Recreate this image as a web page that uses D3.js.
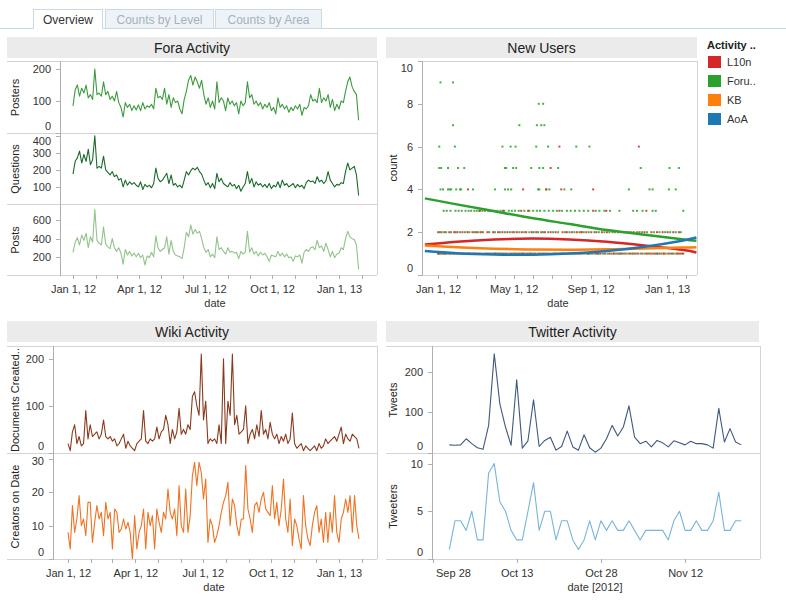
<!DOCTYPE html>
<html lang="en">
<head>
<meta charset="UTF-8">
<title>Community Overview</title>
<script src="https://d3js.org/d3.v7.min.js"></script>
<style>
  body { margin: 0; background: #fff; }
  svg { font-family: Arial, "Liberation Sans", sans-serif; }
  .hdr { fill: #ebebeb; }
  .hdr-text { font-size: 14px; fill: #222; text-anchor: middle; }
  .frame { stroke: #d4d4d4; stroke-width: 1; shape-rendering: crispEdges; }
  .axis line { stroke: #b0b0b0; shape-rendering: crispEdges; }
  .axis text { font-size: 11px; fill: #333; font-family: Arial, "Liberation Sans", sans-serif; }
  .ytitle { font-size: 11px; fill: #222; text-anchor: middle; }
  .xtitle { font-size: 11px; fill: #333; text-anchor: middle; }
</style>
</head>
<body>
<svg width="786" height="600"></svg>
<script>
// ---------------- data ----------------
const tabNames = ["Overview", "Counts by Level", "Counts by Area"];
const panelTitles = ["Fora Activity", "New Users", "Wiki Activity", "Twitter Activity"];

// daily activity sampled every 3 days, Jan 1 2012 .. Jan 28 2013
const foraDates = d3.timeDay.range(new Date(2012, 0, 1), new Date(2013, 0, 29), 3);

const postersValues = [
  85, 135, 150, 115, 140, 125, 150, 110, 120, 105,
  200, 120, 125, 115, 160, 120, 130, 105, 115, 100,
  130, 95, 80, 50, 95, 80, 90, 70, 85, 72,
  88, 70, 95, 75, 85, 80, 90, 75, 140, 110,
  115, 105, 140, 90, 120, 80, 110, 95, 100, 75,
  60, 105, 130, 165, 180, 150, 175, 160, 140, 165,
  120, 90, 110, 80, 100, 75, 160, 95, 110, 100,
  70, 110, 90, 100, 85, 95, 60, 100, 85, 95,
  160, 110, 120, 90, 100, 85, 95, 75, 90, 80,
  95, 70, 80, 60, 110, 80, 90, 75, 85, 65,
  80, 70, 85, 75, 90, 55, 80, 75, 85, 120,
  100, 105, 95, 140, 95, 110, 100, 120, 80, 105,
  70, 90, 75, 100, 95, 130, 160, 175, 145, 130,
  120, 40
];
const questionsValues = [
  175, 250, 270, 310, 240, 290, 250, 320, 230, 260,
  400, 210, 220, 210, 280, 200, 185, 170, 190, 160,
  170, 140, 150, 100, 140, 110, 130, 115, 125, 110,
  100, 130, 85, 115, 100, 110, 95, 120, 210, 150,
  130, 140, 160, 180, 120, 170, 110, 120, 100, 110,
  95, 140, 190, 170, 195, 210, 200, 215, 190, 175,
  140, 110, 125, 95, 120, 90, 180, 130, 150, 120,
  110, 100, 125, 105, 115, 90, 110, 75, 100, 120,
  190, 120, 150, 100, 130, 110, 120, 100, 115, 95,
  120, 90, 110, 100, 130, 95, 140, 110, 120, 100,
  110, 120, 95, 115, 100, 110, 90, 125, 140, 130,
  135, 120, 160, 130, 140, 120, 135, 190, 140, 120,
  100, 115, 110, 125, 120, 190, 240, 200, 210, 220,
  170, 50
];
const postsValues = [
  250, 360, 410, 330, 440, 380, 460, 300, 420, 360,
  720, 380, 350, 330, 530, 340, 310, 290, 400, 300,
  260, 300, 240, 120, 280, 220, 260, 210, 240, 200,
  240, 190, 220, 110, 210, 190, 250, 200, 430, 300,
  260, 280, 300, 420, 230, 380, 260, 220, 210, 200,
  180, 300, 470, 420, 550, 450, 500, 460, 480, 400,
  300, 250, 280, 200, 230, 190, 420, 280, 300, 260,
  230, 300, 250, 260, 240, 250, 180, 260, 230, 250,
  480, 250, 300, 230, 260, 210, 250, 220, 240, 200,
  150, 220, 210, 200, 260, 210, 240, 200, 230, 190,
  200, 150, 210, 200, 220, 130, 250, 280, 260, 300,
  310, 280, 380, 300, 320, 260, 350, 280, 200, 260,
  190, 230, 240, 300, 280, 400, 480, 420, 400, 390,
  330, 60
];
const documentsValues = [
  20, 5, 45, 60, 20, 35, 15, 20, 90, 30,
  60, 35, 40, 45, 30, 40, 70, 35, 30, 35,
  25, 30, 15, 20, 30, 40, 10, 25, 15, 10,
  5, 20, 25, 30, 90, 25, 20, 30, 25, 30,
  55, 30, 45, 50, 80, 60, 20, 50, 30, 45,
  95, 40, 50, 40, 60, 50, 120, 130, 100, 80,
  210, 70, 110, 20, 30, 25, 30, 20, 60, 20,
  200, 20, 110, 80, 210, 60, 80, 40, 45, 50,
  100, 20, 40, 50, 30, 60, 35, 90, 40, 50,
  30, 65, 40, 30, 40, 20, 35, 25, 40, 20,
  30, 85, 20, 10, 15, 20, 5, 15, 10, 5,
  10, 15, 5, 20, 10, 15, 30, 20, 25, 30,
  35, 25, 40, 55, 20, 40, 30, 25, 40, 35,
  30, 10
];
const creatorsValues = [
  8, 3, 16, 8, 12, 19, 10, 12, 7, 17,
  17, 5, 11, 16, 12, 14, 7, 17, 12, 14,
  3, 15, 14, 8, 9, 12, 9, 11, 8, 0,
  13, 3, 8, 10, 15, 3, 14, 10, 13, 3,
  15, 11, 8, 14, 12, 21, 14, 12, 15, 7,
  22, 10, 8, 21, 8, 13, 25, 29, 22, 29,
  26, 18, 24, 5, 12, 10, 5, 7, 10, 14,
  17, 19, 23, 10, 18, 16, 10, 7, 12, 12,
  28, 15, 12, 8, 16, 17, 14, 18, 20, 15,
  14, 13, 22, 12, 17, 10, 15, 24, 12, 8,
  18, 4, 12, 10, 6, 3, 19, 10, 6, 4,
  10, 14, 16, 8, 12, 5, 14, 5, 14, 8,
  19, 8, 5, 12, 14, 18, 14, 19, 8, 19,
  10, 6
];

// twitter, daily Oct 1 .. Nov 22 2012
const twitterDates = d3.timeDay.range(new Date(2012, 9, 1), new Date(2012, 10, 23));
const tweetsValues = [
  20, 19, 20, 35, 23, 13, 9, 68, 244, 121,
  64, 19, 180, 12, 30, 131, 16, 31, 39, 7,
  16, 54, 15, 7, 45, 13, 2, 12, 35, 68,
  42, 64, 116, 39, 23, 29, 15, 31, 25, 15,
  30, 25, 20, 29, 23, 23, 20, 12, 110, 27,
  60, 27, 20
];
const tweetersValues = [
  1, 4, 4, 3, 5, 2, 2, 9, 10, 6,
  5, 3, 2, 2, 5, 8, 3, 5, 5, 2,
  4, 4, 2, 1, 2, 4, 2, 4, 3, 4,
  3, 3, 4, 3, 2, 3, 3, 3, 3, 2,
  4, 5, 3, 3, 4, 3, 3, 4, 7, 3,
  3, 4, 4
];
const twitterTickDates = [new Date(2012, 8, 28), new Date(2012, 9, 13), new Date(2012, 9, 28), new Date(2012, 10, 12)];

// new users: [count, days since Jan 1 2012]
const activityNames = ["L10n", "Foru..", "KB", "AoA"];
const l10nDots = [
  [6, [194, 321]],
  [5, [180]],
  [4, [48, 136, 173, 197, 248]],
  [3, [67, 83, 104, 133, 144, 194, 248, 269, 333]],
  [2, [3, 10, 18, 26, 31, 39, 47, 55, 61, 68, 79, 88, 96, 103, 111, 119, 126, 134, 141, 150, 157, 165, 171, 180,
       188, 199, 206, 214, 222, 229, 237, 245, 253, 262, 270, 279, 288, 297, 305, 313, 322, 330, 341, 350, 359, 367, 376, 385]],
  [1, [1, 7, 12, 19, 24, 30, 36, 42, 49, 54, 60, 66, 73, 78, 85, 91, 98, 104, 110, 117, 123, 130, 137, 143, 149, 155,
       162, 168, 175, 182, 189, 195, 201, 208, 215, 221, 228, 234, 241, 247, 254, 260, 267, 274, 281, 287, 294, 300,
       307, 314, 320, 327, 334, 341, 347, 354, 361, 368, 374, 381, 387, 392]]
];
const forumDots = [
  [9, [4, 24]],
  [8, [161, 168]],
  [7, [24, 130, 158, 165, 170]],
  [6, [2, 27, 103, 116, 124, 157, 176, 221, 242]],
  [5, [2, 5, 16, 32, 42, 107, 109, 120, 125, 149, 162, 168, 192, 324, 370, 385]],
  [4, [4, 8, 16, 19, 21, 29, 35, 37, 56, 91, 107, 112, 117, 160, 162, 173, 178, 202, 213, 305, 338, 343, 369, 380]],
  [3, [9, 14, 20, 28, 33, 38, 44, 49, 53, 58, 62, 66, 71, 75, 80, 86, 90, 95, 100, 106, 113, 118, 123, 129, 138, 146,
       152, 158, 163, 170, 177, 184, 190, 198, 206, 212, 219, 226, 233, 240, 252, 258, 266, 275, 290, 312, 318, 327,
       343, 348, 392]],
  [2, [0, 6, 13, 21, 28, 35, 43, 50, 58, 64, 72, 82, 91, 99, 107, 115, 122, 130, 138, 146, 153, 160, 168, 176, 184,
       192, 203, 210, 218, 226, 233, 241, 250, 257, 266, 274, 283, 292, 301, 309, 318, 326, 334, 345, 354, 363, 371, 380, 388]],
  [1, [0, 4, 9, 15, 21, 27, 33, 39, 45, 51, 57, 63, 69, 76, 82, 88, 94, 101, 107, 114, 120, 127, 133, 140, 146, 152,
       159, 165, 172, 178, 185, 192, 198, 204, 211, 218, 224, 231, 238, 244, 251, 257, 264, 271, 277, 284, 291, 297,
       304, 311, 317, 324, 331, 337, 344, 351, 357, 364, 371, 377, 384, 390]]
];
const kbDots = [
  [2, [70, 230]],
  [1, [3, 17, 40, 58, 80, 97, 125, 147, 170, 199, 226, 256, 280, 310, 338, 360, 383]]
];
const aoaDots = [
  [1, [11, 48, 92, 135, 187, 240, 290, 350]]
];

// trend curves, read at these day offsets
const trendDays = [-21, 30, 90, 150, 210, 270, 330, 390, 413];
const l10nTrend = [1.42, 1.55, 1.66, 1.70, 1.66, 1.55, 1.38, 1.18, 1.05];
const forumTrend = [3.58, 3.30, 2.98, 2.66, 2.38, 2.10, 1.88, 1.67, 1.60];
const kbTrend = [1.38, 1.30, 1.23, 1.19, 1.18, 1.20, 1.24, 1.28, 1.30];
const aoaTrend = [1.12, 1.02, 0.96, 0.95, 1.00, 1.12, 1.32, 1.60, 1.75];

// axis ticks
const postersTicks = [0, 100, 200];
const questionsTicks = [100, 200, 300, 400];
const postsTicks = [200, 400, 600];
const countTicks = [0, 2, 4, 6, 8, 10];
const documentsTicks = [0, 100, 200];
const creatorsTicks = [0, 10, 20, 30];
const tweetsTicks = [0, 100, 200];
const tweetersTicks = [0, 5, 10];

// ---------------- drawing ----------------
const svg = d3.select("svg");
const day0 = new Date(2012, 0, 1);
const fmtFull = d3.timeFormat("%b %-d, %y");
const fmtShort = d3.timeFormat("%b %-d");
const monthTicks = d3.timeMonth.range(new Date(2012, 0, 1), new Date(2013, 1, 2));
let clipCount = 0;

// tabs
const tabBox = [[33, 69], [105, 108], [215, 106]];
svg.append("line").attr("x1", 0).attr("x2", 786).attr("y1", 28.5).attr("y2", 28.5).attr("stroke", "#c9d9e8");
tabNames.forEach((name, i) => {
  const tx = tabBox[i][0], tw = tabBox[i][1];
  svg.append("rect").attr("x", tx + 0.5).attr("y", 9.5).attr("width", tw).attr("height", 19)
    .attr("fill", i === 0 ? "#fff" : "#eef3f8").attr("stroke", "#c9d9e8");
  if (i === 0) svg.append("line").attr("x1", tx + 1).attr("x2", tx + tw).attr("y1", 28.5).attr("y2", 28.5).attr("stroke", "#fff");
  svg.append("text").attr("x", tx + tw / 2 + 0.5).attr("y", 23.5).attr("text-anchor", "middle")
    .attr("font-size", "12px").attr("fill", i === 0 ? "#333" : "#a7b1bd").text(name);
});

function header(x0, x1, y0, title) {
  svg.append("rect").attr("class", "hdr").attr("x", x0).attr("y", y0).attr("width", x1 - x0).attr("height", 21);
  svg.append("text").attr("class", "hdr-text").attr("x", (x0 + x1) / 2).attr("y", y0 + 16).text(title);
}

function frame(x0, x1, ys) {
  ys.forEach(y => svg.append("line").attr("class", "frame")
    .attr("x1", x0).attr("x2", x1).attr("y1", y + 0.5).attr("y2", y + 0.5));
  svg.append("line").attr("class", "frame")
    .attr("x1", x1 + 0.5).attr("x2", x1 + 0.5).attr("y1", ys[0]).attr("y2", ys[ys.length - 1]);
}

function yAxisLine(x, top, bottom) {
  svg.append("line").attr("x1", x + 0.5).attr("x2", x + 0.5).attr("y1", top).attr("y2", bottom + 1)
    .attr("stroke", "#b0b0b0");
}

function yAxis(y, ticks, left, top, bottom) {
  const g = svg.append("g").attr("class", "axis").attr("transform", `translate(${left},0)`)
    .call(d3.axisLeft(y).tickValues(ticks).tickSize(4).tickPadding(5));
  g.select(".domain").remove();
  // keep edge labels inside the pane
  g.selectAll(".tick text").attr("y", d => Math.max(top + 7, Math.min(bottom - 7, y(d))) - y(d));
}

function yTitle(x, yc, text) {
  svg.append("text").attr("class", "ytitle")
    .attr("transform", `translate(${x},${yc}) rotate(-90)`).attr("dy", "0.35em").text(text);
}

function xAxis(x, ticks, labelFn, y0) {
  const g = svg.append("g").attr("class", "axis").attr("transform", `translate(0,${y0})`)
    .call(d3.axisBottom(x).tickValues(ticks).tickFormat(labelFn).tickSize(4).tickPadding(6));
  g.select(".domain").remove();
  return g;
}

function clip(x0, y0, x1, y1) {
  const id = "clip" + (clipCount++);
  svg.append("clipPath").attr("id", id).append("rect")
    .attr("x", x0).attr("y", y0).attr("width", x1 - x0).attr("height", y1 - y0);
  return `url(#${id})`;
}

function linePanel(x, dates, values, left, right, top, bottom, domain, ticks, color, title, titleX) {
  const y = d3.scaleLinear().domain(domain).range([bottom, top]);
  const n = Math.min(dates.length, values.length);
  svg.append("path").datum(d3.range(n))
    .attr("clip-path", clip(left, top, right, bottom))
    .attr("fill", "none").attr("stroke", color).attr("stroke-width", 1.1).attr("stroke-linejoin", "round")
    .attr("d", d3.line().x(i => x(dates[i])).y(i => y(values[i])));
  yAxis(y, ticks, left, top, bottom);
  yTitle(titleX, (top + bottom) / 2, title);
}

// ---- Fora Activity
header(7, 377, 37, panelTitles[0]);
frame(7, 377, [61, 133, 204, 275]);
yAxisLine(60, 61, 275);
const xFora = d3.scaleTime().domain([day0, new Date(2013, 0, 1)]).range([73, 339]);
linePanel(xFora, foraDates, postersValues, 60, 377, 62, 133, [0, 222], postersTicks, "#3d9a3f", "Posters", 15);
linePanel(xFora, foraDates, questionsValues, 60, 377, 134, 204, [0, 410], questionsTicks, "#1b6a2d", "Questions", 15);
linePanel(xFora, foraDates, postsValues, 60, 377, 205, 275, [0, 770], postsTicks, "#92c38b", "Posts", 15);
xAxis(xFora, monthTicks, d => d.getMonth() % 3 === 0 ? fmtFull(d) : "", 275);
svg.append("text").attr("class", "xtitle").attr("x", 215).attr("y", 307).text("date");

// ---- New Users
header(386, 697, 37, panelTitles[1]);
frame(420, 697, [61, 275]);
yAxisLine(422, 61, 275);
const xUsers = d3.scaleTime().domain([day0, new Date(2013, 0, 1)]).range([438, 667]);
const yUsers = d3.scaleLinear().domain([0, 10]).range([275, 61]);
const usersClip = clip(422, 61, 697, 275);
const activityColors = ["#d62728", "#2ca02c", "#ff7f0e", "#1f77b4"];
const dotSets = [l10nDots, forumDots, kbDots, aoaDots];
const trends = [l10nTrend, forumTrend, kbTrend, aoaTrend];
const drawOrder = [3, 2, 1, 0];

drawOrder.forEach(k => {
  const pts = dotSets[k].flatMap(([count, days]) => days.map(dd => ({ date: d3.timeDay.offset(day0, dd), count })));
  svg.append("g").attr("clip-path", usersClip).selectAll("rect").data(pts).join("rect")
    .attr("x", d => xUsers(d.date) - 1).attr("y", d => yUsers(d.count) - 1)
    .attr("width", 2).attr("height", 2).attr("fill", activityColors[k]).attr("opacity", 0.85);
});
[1, 0, 2, 3].forEach(k => {
  svg.append("path").datum(trendDays.map((dd, i) => [d3.timeDay.offset(day0, dd), trends[k][i]]))
    .attr("clip-path", usersClip)
    .attr("fill", "none").attr("stroke", activityColors[k]).attr("stroke-width", 2.5)
    .attr("d", d3.line().curve(d3.curveNatural).x(d => xUsers(d[0])).y(d => yUsers(d[1])));
});
yAxis(yUsers, countTicks, 422, 61, 275);
yTitle(393, 168, "count");
xAxis(xUsers, monthTicks, d => d.getMonth() % 4 === 0 ? fmtFull(d) : "", 275);
svg.append("text").attr("class", "xtitle").attr("x", 558).attr("y", 307).text("date");

// legend
svg.append("text").attr("x", 707).attr("y", 49).attr("font-size", "11px").attr("font-weight", "bold")
  .attr("fill", "#222").text("Activity ..");
activityNames.forEach((name, i) => {
  svg.append("rect").attr("x", 708).attr("y", 56 + i * 19).attr("width", 13).attr("height", 12).attr("fill", activityColors[i]);
  svg.append("text").attr("x", 727).attr("y", 66 + i * 19).attr("font-size", "11px").attr("fill", "#333").text(name);
});

// ---- Wiki Activity
header(7, 377, 321, panelTitles[2]);
frame(7, 377, [346, 453, 559]);
yAxisLine(53, 346, 559);
const xWiki = d3.scaleTime().domain([day0, new Date(2013, 0, 1)]).range([68, 339]);
linePanel(xWiki, foraDates, documentsValues, 53, 377, 347, 453, [0, 225], documentsTicks, "#8a3b1e", "Documents Created..", 15);
linePanel(xWiki, foraDates, creatorsValues, 53, 377, 454, 559, [0, 31.5], creatorsTicks, "#f07222", "Creators on Date", 15);
xAxis(xWiki, monthTicks, d => d.getMonth() % 3 === 0 ? fmtFull(d) : "", 559);
svg.append("text").attr("class", "xtitle").attr("x", 214).attr("y", 591).text("date");

// ---- Twitter Activity
header(386, 759, 321, panelTitles[3]);
frame(386, 760, [346, 453, 559]);
yAxisLine(432, 346, 559);
const xTw = d3.scaleTime().domain([twitterTickDates[0], twitterTickDates[1]]).range([432.5, 516.7]);
linePanel(xTw, twitterDates, tweetsValues, 432, 760, 347, 453, [0, 261], tweetsTicks, "#3f5a7e", "Tweets", 393);
linePanel(xTw, twitterDates, tweetersValues, 432, 760, 454, 559, [0, 11], tweetersTicks, "#78b5da", "Tweeters", 393);
const twAxis = xAxis(xTw, twitterTickDates, fmtShort, 559);
twAxis.select(".tick text").attr("text-anchor", "start").attr("x", 3);
svg.append("text").attr("class", "xtitle").attr("x", 595).attr("y", 591).text("date [2012]");
</script>
</body>
</html>
